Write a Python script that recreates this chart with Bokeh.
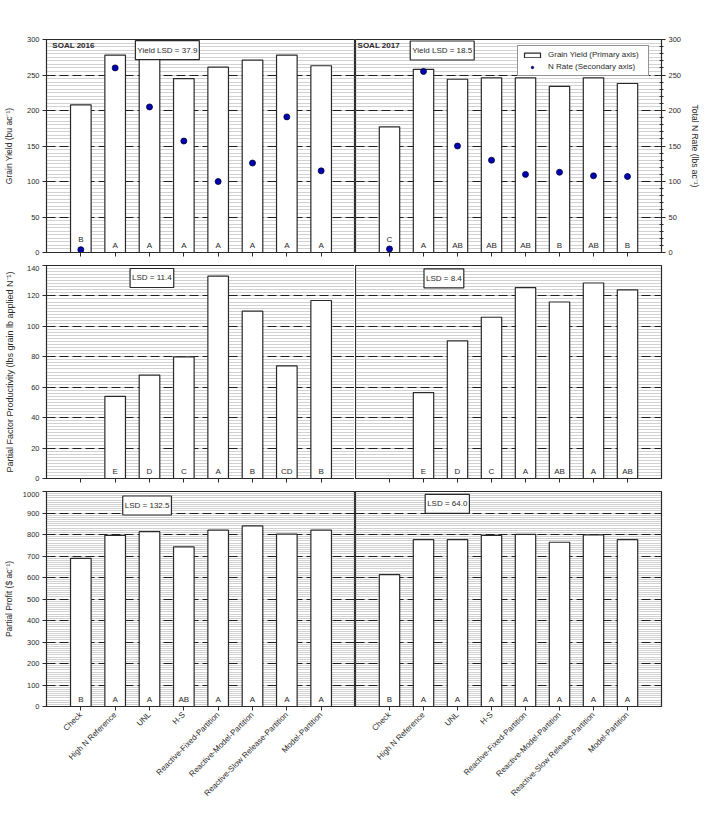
import math
from bokeh.plotting import figure
from bokeh.models import (FactorRange, Range1d, LinearAxis, SingleIntervalTicker,
                          Label, Legend, LegendItem, ColumnDataSource, Grid,
                          CustomLabelingPolicy)
from bokeh.layouts import gridplot
from bokeh.embed import file_html
from bokeh.resources import INLINE
from bokeh.core.properties import value

nan = float("nan")

categories = ["Check", "High N Reference", "UNL", "H-S", "Reactive-Fixed-Partition",
              "Reactive-Model-Partition", "Reactive-Slow Release-Partition", "Model-Partition"]

yield_2016 = [208, 278, 274, 245, 261, 271, 278, 263]
nrate_2016 = [4, 260, 205, 157, 100, 126, 191, 115]
yield_letters_2016 = ["B", "A", "A", "A", "A", "A", "A", "A"]

yield_2017 = [177, 258, 244, 246, 246, 234, 246, 238]
nrate_2017 = [5, 255, 150, 130, 110, 113, 108, 107]
yield_letters_2017 = ["C", "A", "AB", "AB", "AB", "B", "AB", "B"]

pfp_2016 = [nan, 54, 68, 80, 133, 110, 74, 117]
pfp_letters_2016 = ["", "E", "D", "C", "A", "B", "CD", "B"]

pfp_2017 = [nan, 56.5, 90.5, 106, 125.5, 116, 128.5, 124]
pfp_letters_2017 = ["", "E", "D", "C", "A", "AB", "A", "AB"]

profit_2016 = [689, 796, 813, 742, 820, 840, 802, 820]
profit_letters_2016 = ["B", "A", "A", "AB", "A", "A", "A", "A"]

profit_2017 = [613, 776, 776, 796, 801, 764, 798, 776]
profit_letters_2017 = ["B", "A", "A", "A", "A", "A", "A", "A"]

lsd_texts = ["Yield LSD = 37.9", "Yield LSD = 18.5", "LSD = 11.4", "LSD = 8.4",
             "LSD = 132.5", "LSD = 64.0"]
site_texts = ["SOAL 2016", "SOAL 2017"]

FONT = "Liberation Sans"
DARK = "#2a2a2a"

HIDE_LABELS = """
const all = []
for (const i of indices) all.push(i)
for (const i of all) indices.unset(i)
return indices
"""


def make_panel(vals, letters, ymax, major, left, row, ylabel=None, label_standoff=10,
               letter_lift=None, ylabel_size="8.5px"):
    top_row = row == 0
    bottom_row = row == 2
    p = figure(x_range=FactorRange(factors=categories, range_padding=0.5,
                                   range_padding_units="absolute"),
               y_range=Range1d(0, ymax),
               frame_width=309 if left else 306,
               frame_height=215 if bottom_row else 213,
               output_backend="svg", toolbar_location=None,
               min_border_left=44 if left else 0,
               min_border_right=0 if left else 40,
               min_border_top=39 if top_row else 0,
               min_border_bottom=100 if bottom_row else 13,
               y_axis_location="left" if left else None)
    p.outline_line_color = DARK
    p.outline_line_width = 1.2
    p.background_fill_color = "white"

    ticker = SingleIntervalTicker(interval=major, num_minor_ticks=10)
    if left:
        p.yaxis.ticker = ticker
        p.ygrid.ticker = ticker
        grid = p.ygrid[0]
        ax = p.yaxis[0]
        ax.axis_label = ylabel
        ax.axis_label_text_font = FONT
        ax.axis_label_text_font_style = "normal"
        ax.axis_label_text_font_size = ylabel_size
        ax.axis_label_text_color = DARK
        ax.axis_label_standoff = label_standoff
        ax.major_label_text_font = FONT
        ax.major_label_text_font_size = "7.5px"
        ax.major_label_text_color = DARK
        ax.major_label_standoff = 3
        ax.major_tick_in = 4
        ax.major_tick_out = 4
        ax.minor_tick_line_color = None
        ax.axis_line_color = DARK
        ax.major_tick_line_color = DARK
    else:
        grid = Grid(dimension=1, ticker=ticker)
        p.add_layout(grid)
    grid.grid_line_color = "#1e1e1e"
    grid.grid_line_dash = "9 4"
    grid.grid_line_width = 1
    grid.minor_grid_line_color = "#8a8a8a"
    grid.minor_grid_line_dash = "1 1"
    grid.minor_grid_line_width = 0.8
    p.xgrid.grid_line_color = None

    xa = p.xaxis[0]
    xa.axis_line_color = DARK
    xa.major_tick_line_color = DARK
    xa.major_tick_in = 0
    xa.major_tick_out = 4
    xa.major_label_text_font = FONT
    xa.major_label_text_color = DARK
    if bottom_row:
        xa.major_label_text_font_size = "8px"
        xa.major_label_orientation = math.pi / 4
        xa.major_label_standoff = 3
    else:
        xa.major_label_text_font_size = "2px"
        xa.major_label_standoff = 0
        xa.major_label_policy = CustomLabelingPolicy(code=HIDE_LABELS)

    if letter_lift is None:
        letter_lift = [-3] * len(categories)
    src = ColumnDataSource(dict(x=categories, top=vals, letters=letters,
                                base=[0] * len(categories), lift=letter_lift))
    bars = p.vbar(x="x", top="top", width=0.6, source=src, fill_color="white",
                  line_color=DARK, line_width=1.2)
    p.text(x="x", y="base", text="letters", y_offset="lift", source=src,
           text_align="center", text_baseline="bottom", text_font=value(FONT),
           text_font_size="8px", text_color=DARK)
    return p, bars


def add_box(p, x, y, text):
    p.add_layout(Label(x=x, y=y, text=text, text_align="center", text_baseline="middle",
                       text_font=FONT, text_font_size="8px", text_color=DARK,
                       border_line_color=DARK, border_line_width=1.2,
                       background_fill_color="white", padding=(2, 5)))


def add_site(p, x, y, text):
    p.add_layout(Label(x=x, y=y, text=text, text_align="left", text_baseline="middle",
                       text_font=FONT, text_font_size="8px", text_font_style="bold",
                       text_color=DARK))


check_lift = [-9] + [-3] * 7

# Top row
p1, b1 = make_panel(yield_2016, yield_letters_2016, 300, 50, True, 0,
                    ylabel="Grain Yield (bu ac\u207b\u00b9)", label_standoff=10,
                    letter_lift=check_lift)
p1.extra_y_ranges = {"n": Range1d(0, 300)}
p1.scatter(x=categories, y=nrate_2016, y_range_name="n", marker="circle", size=6,
           fill_color="#0000b4", line_color="#000030", line_width=0.8)
add_site(p1, -0.33, 291, site_texts[0])
add_box(p1, 3.02, 285, lsd_texts[0])

p2, b2 = make_panel(yield_2017, yield_letters_2017, 300, 50, False, 0,
                    letter_lift=check_lift)
p2.extra_y_ranges = {"n": Range1d(0, 300)}
pts = p2.scatter(x=categories, y=nrate_2017, y_range_name="n", marker="circle", size=6,
                 fill_color="#0000b4", line_color="#000030", line_width=0.8)
rax = LinearAxis(y_range_name="n", ticker=SingleIntervalTicker(interval=50, num_minor_ticks=5),
                 axis_label="Total N Rate (lbs ac\u207b\u00b9)")
rax.axis_label_text_font = FONT
rax.axis_label_text_font_style = "normal"
rax.axis_label_text_font_size = "8.5px"
rax.axis_label_text_color = DARK
rax.axis_label_standoff = 6
rax.major_label_text_font = FONT
rax.major_label_text_font_size = "7.5px"
rax.major_label_text_color = DARK
rax.major_label_standoff = 3
rax.major_tick_in = 4
rax.major_tick_out = 4
rax.minor_tick_in = 2
rax.minor_tick_out = 2
rax.axis_line_color = DARK
rax.major_tick_line_color = DARK
rax.minor_tick_line_color = DARK
p2.add_layout(rax, "right")
add_site(p2, -0.44, 291, site_texts[1])
add_box(p2, 2.05, 284.5, lsd_texts[1])

legend = Legend(items=[LegendItem(label="Grain Yield (Primary axis)", renderers=[b2]),
                       LegendItem(label="N Rate (Secondary axis)", renderers=[pts])],
                location=(162, 176), orientation="vertical")
legend.border_line_color = DARK
legend.border_line_width = 1.2
legend.background_fill_color = "white"
legend.background_fill_alpha = 1
legend.label_text_font = FONT
legend.label_text_font_size = "8px"
legend.label_text_color = DARK
legend.glyph_width = 20
legend.glyph_height = 6
legend.label_height = 9
legend.label_width = 96
legend.spacing = 3
legend.padding = 4
legend.margin = 0
legend.label_standoff = 6
p2.add_layout(legend)

# Middle row
p3, _ = make_panel(pfp_2016, pfp_letters_2016, 140, 20, True, 1,
                   ylabel="Partial Factor Productivity (lbs grain lb applied N\u207b\u00b9)",
                   label_standoff=9, ylabel_size="9px")
add_box(p3, 2.57, 131.8, lsd_texts[2])
p4, _ = make_panel(pfp_2017, pfp_letters_2017, 140, 20, False, 1)
add_box(p4, 2.1, 131.5, lsd_texts[3])

# Bottom row
p5, _ = make_panel(profit_2016, profit_letters_2016, 1000, 100, True, 2,
                   ylabel="Partial Profit ($ ac\u207b\u00b9)", label_standoff=6)
add_box(p5, 2.43, 935, lsd_texts[4])
p6, _ = make_panel(profit_2017, profit_letters_2017, 1000, 100, False, 2)
add_box(p6, 2.2, 942, lsd_texts[5])

grid_layout = gridplot([[p1, p2], [p3, p4], [p5, p6]], toolbar_location=None)

open("out.html", "w").write(file_html(grid_layout, INLINE))
